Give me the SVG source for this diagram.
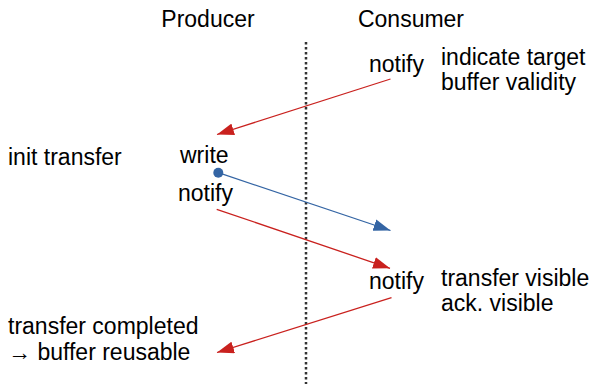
<svg xmlns="http://www.w3.org/2000/svg" width="594" height="385" viewBox="0 0 594 385">
<style>
text{font-family:"Liberation Sans",Arial,sans-serif;font-size:23px;fill:#000}
.r{stroke:#c9211e;stroke-width:1.3;fill:none}
.b{stroke:#3465a4;stroke-width:1.3;fill:none}
</style>
<defs>
<marker id="ar" markerUnits="userSpaceOnUse" markerWidth="18" markerHeight="12" refX="17" refY="6" orient="auto"><path d="M0,0 L17,6 L0,12 Z" fill="#c9211e"/></marker>
<marker id="ab" markerUnits="userSpaceOnUse" markerWidth="18" markerHeight="12" refX="17" refY="6" orient="auto"><path d="M0,0 L17,6 L0,12 Z" fill="#3465a4"/></marker>
</defs>
<rect width="594" height="385" fill="#fff"/>
<g id="lifeline">
<line x1="306" y1="42" x2="306" y2="384" stroke="#333" stroke-width="2.5" stroke-dasharray="2.5 2.5"/>
</g>
<g id="producer"><text x="208" y="27" text-anchor="middle">Producer</text></g>
<g id="consumer"><text x="411" y="27" text-anchor="middle">Consumer</text></g>
<g id="notify1"><text x="369" y="72">notify</text></g>
<g id="indicate"><text x="441" y="65">indicate target</text><text x="441" y="90">buffer validity</text></g>
<g id="init"><text x="8" y="165">init transfer</text></g>
<g id="write"><text x="180" y="163">write</text></g>
<g id="notify2"><text x="178" y="201">notify</text></g>
<g id="notify3"><text x="369" y="289">notify</text></g>
<g id="visible"><text x="441" y="286">transfer visible</text><text x="441" y="311">ack. visible</text></g>
<g id="completed"><text x="8" y="334">transfer completed</text><text x="8" y="360">→ buffer reusable</text></g>
<g id="connectors">
<line class="r" x1="390.5" y1="79" x2="217" y2="134.5" marker-end="url(#ar)"/>
<circle cx="218.3" cy="172.7" r="5" fill="#3465a4"/>
<line class="b" x1="218.3" y1="172.7" x2="390.5" y2="230.5" marker-end="url(#ab)"/>
<line class="r" x1="216.7" y1="209.3" x2="390" y2="268.3" marker-end="url(#ar)"/>
<line class="r" x1="391.5" y1="297.7" x2="217" y2="352.5" marker-end="url(#ar)"/>
</g>
</svg>
